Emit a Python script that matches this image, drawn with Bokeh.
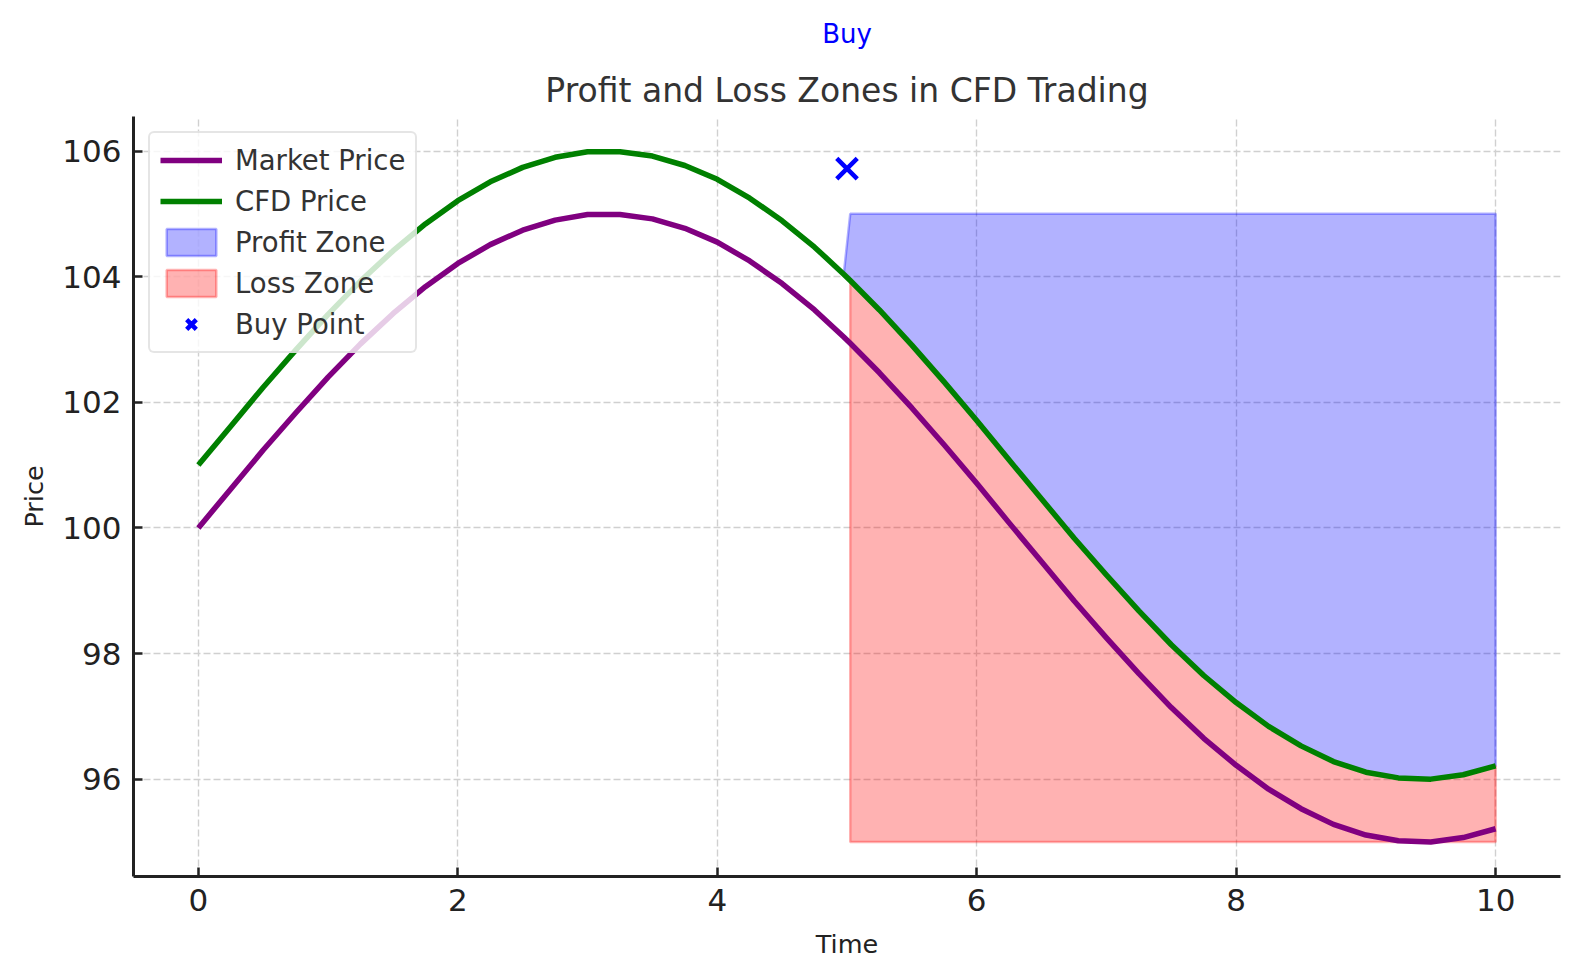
from bokeh.plotting import figure
from bokeh.models import Legend, LegendItem, Title, FixedTicker, Range1d
from bokeh.embed import file_html
from bokeh.resources import INLINE

# ---- data ----
TIME = [0.0, 0.25, 0.5, 0.75, 1.0, 1.25, 1.5, 1.75, 2.0, 2.25, 2.5, 2.75, 3.0,
        3.25, 3.5, 3.75, 4.0, 4.25, 4.5, 4.75, 4.975, 5.025, 5.25, 5.5, 5.75,
        6.0, 6.25, 6.5, 6.75, 7.0, 7.25, 7.5, 7.75, 8.0, 8.25, 8.5, 8.75, 9.0,
        9.25, 9.5, 9.75, 10.0]
MARKET_PRICE = [100.00, 100.62, 101.24, 101.83, 102.40, 102.93, 103.41, 103.84,
                104.21, 104.51, 104.74, 104.90, 104.99, 104.99, 104.92, 104.77,
                104.55, 104.25, 103.89, 103.47, 103.04, 102.94, 102.47, 101.91,
                101.32, 100.71, 100.08, 99.46, 98.84, 98.25, 97.68, 97.14, 96.65,
                96.22, 95.84, 95.53, 95.28, 95.11, 95.02, 95.00, 95.07, 95.21]
CFD_PRICE = [101.00, 101.62, 102.24, 102.83, 103.40, 103.93, 104.41, 104.84,
             105.21, 105.51, 105.74, 105.90, 105.99, 105.99, 105.92, 105.77,
             105.55, 105.25, 104.89, 104.47, 104.04, 103.94, 103.47, 102.91,
             102.32, 101.71, 101.08, 100.46, 99.84, 99.25, 98.68, 98.14, 97.65,
             97.22, 96.84, 96.53, 96.28, 96.11, 96.02, 96.00, 96.07, 96.21]
PROFIT_START = 4.975      # profit zone begins here (slanted edge)
LOSS_START = 5.025        # loss zone begins here
PROFIT_CEILING = 105.0
LOSS_FLOOR = 95.0
BUY_POINT = (5.0, 105.72)
BUY_TEXT = "Buy"
X_TICKS = [0, 2, 4, 6, 8, 10]
Y_TICKS = [96, 98, 100, 102, 104, 106]

FONT = "DejaVu Sans"

# ---- build zone polygons from the data ----
pi = [i for i, t in enumerate(TIME) if t >= PROFIT_START]
p_t = [TIME[i] for i in pi]
p_cfd = [CFD_PRICE[i] for i in pi]
p_top = [p_cfd[0]] + [PROFIT_CEILING] * (len(p_t) - 1)
profit_x = p_t + p_t[::-1]
profit_y = p_top + p_cfd[::-1]

li = [i for i, t in enumerate(TIME) if t >= LOSS_START]
l_t = [TIME[i] for i in li]
l_cfd = [CFD_PRICE[i] for i in li]
loss_x = l_t + l_t[::-1]
loss_y = l_cfd + [LOSS_FLOOR] * len(l_t)

p = figure(width=1580, height=978, output_backend="svg", toolbar_location=None,
           x_range=Range1d(-0.5, 10.5), y_range=Range1d(94.45, 106.55),
           min_border_left=133, min_border_right=20, min_border_top=116,
           min_border_bottom=102)
p.outline_line_color = None
p.background_fill_color = "white"

main_title = Title(text="Profit and Loss Zones in CFD Trading", align="center",
                   text_font=FONT, text_font_size="33px", text_font_style="normal",
                   text_color="#333333", standoff=14)
p.add_layout(main_title, "above")
buy_title = Title(text=BUY_TEXT, align="center", text_font=FONT,
                  text_font_size="26px", text_font_style="normal",
                  text_color="blue", standoff=25)
p.add_layout(buy_title, "above")

# zones
r_profit = p.patch(profit_x, profit_y, fill_color="blue", fill_alpha=0.3,
                   line_color="blue", line_alpha=0.3, line_width=2.5)
r_loss = p.patch(loss_x, loss_y, fill_color="red", fill_alpha=0.3,
                 line_color="red", line_alpha=0.3, line_width=2.5)

# lines
r_market = p.line(TIME, MARKET_PRICE, line_color="#800080", line_width=5.5,
                  line_join="round")
r_cfd = p.line(TIME, CFD_PRICE, line_color="#008000", line_width=5.5,
               line_join="round")

# buy point
r_buy = p.scatter([BUY_POINT[0]], [BUY_POINT[1]], marker="x", size=29,
                  line_color="blue", line_width=4.5)

# axes
for ax in (p.xaxis[0], p.yaxis[0]):
    ax.axis_line_color = "#222222"
    ax.axis_line_width = 3
    ax.major_tick_line_color = "#222222"
    ax.major_tick_line_width = 2.5
    ax.major_tick_in = 9
    ax.major_tick_out = 0
    ax.minor_tick_line_color = None
    ax.major_label_text_font = FONT
    ax.major_label_text_font_size = "31px"
    ax.major_label_text_color = "#222222"
    ax.major_label_standoff = 12
    ax.axis_label_text_font = FONT
    ax.axis_label_text_font_size = "25.5px"
    ax.axis_label_text_font_style = "normal"
    ax.axis_label_text_color = "#222222"

p.xaxis.ticker = FixedTicker(ticks=X_TICKS)
p.yaxis.ticker = FixedTicker(ticks=Y_TICKS)
p.xaxis.axis_label = "Time"
p.yaxis.axis_label = "Price"
p.xaxis.axis_label_standoff = 15
p.yaxis.axis_label_standoff = 10

for g in (p.xgrid[0], p.ygrid[0]):
    g.grid_line_color = "#d0d0d0"
    g.grid_line_dash = "7 3"
    g.grid_line_width = 1.4

legend = Legend(items=[
    LegendItem(label="Market Price", renderers=[r_market]),
    LegendItem(label="CFD Price", renderers=[r_cfd]),
    LegendItem(label="Profit Zone", renderers=[r_profit]),
    LegendItem(label="Loss Zone", renderers=[r_loss]),
    LegendItem(label="Buy Point", renderers=[r_buy]),
], location="top_left")
legend.margin = 15
legend.padding = 10
legend.spacing = 7
legend.glyph_width = 62
legend.glyph_height = 34
legend.label_standoff = 13
legend.label_text_font = FONT
legend.label_text_font_size = "27.5px"
legend.label_text_color = "#333333"
legend.border_line_color = "#cccccc"
legend.border_line_width = 2
legend.border_radius = 6
legend.background_fill_color = "white"
legend.background_fill_alpha = 0.8
p.add_layout(legend)

open("out.html", "w").write(file_html(p, INLINE))
